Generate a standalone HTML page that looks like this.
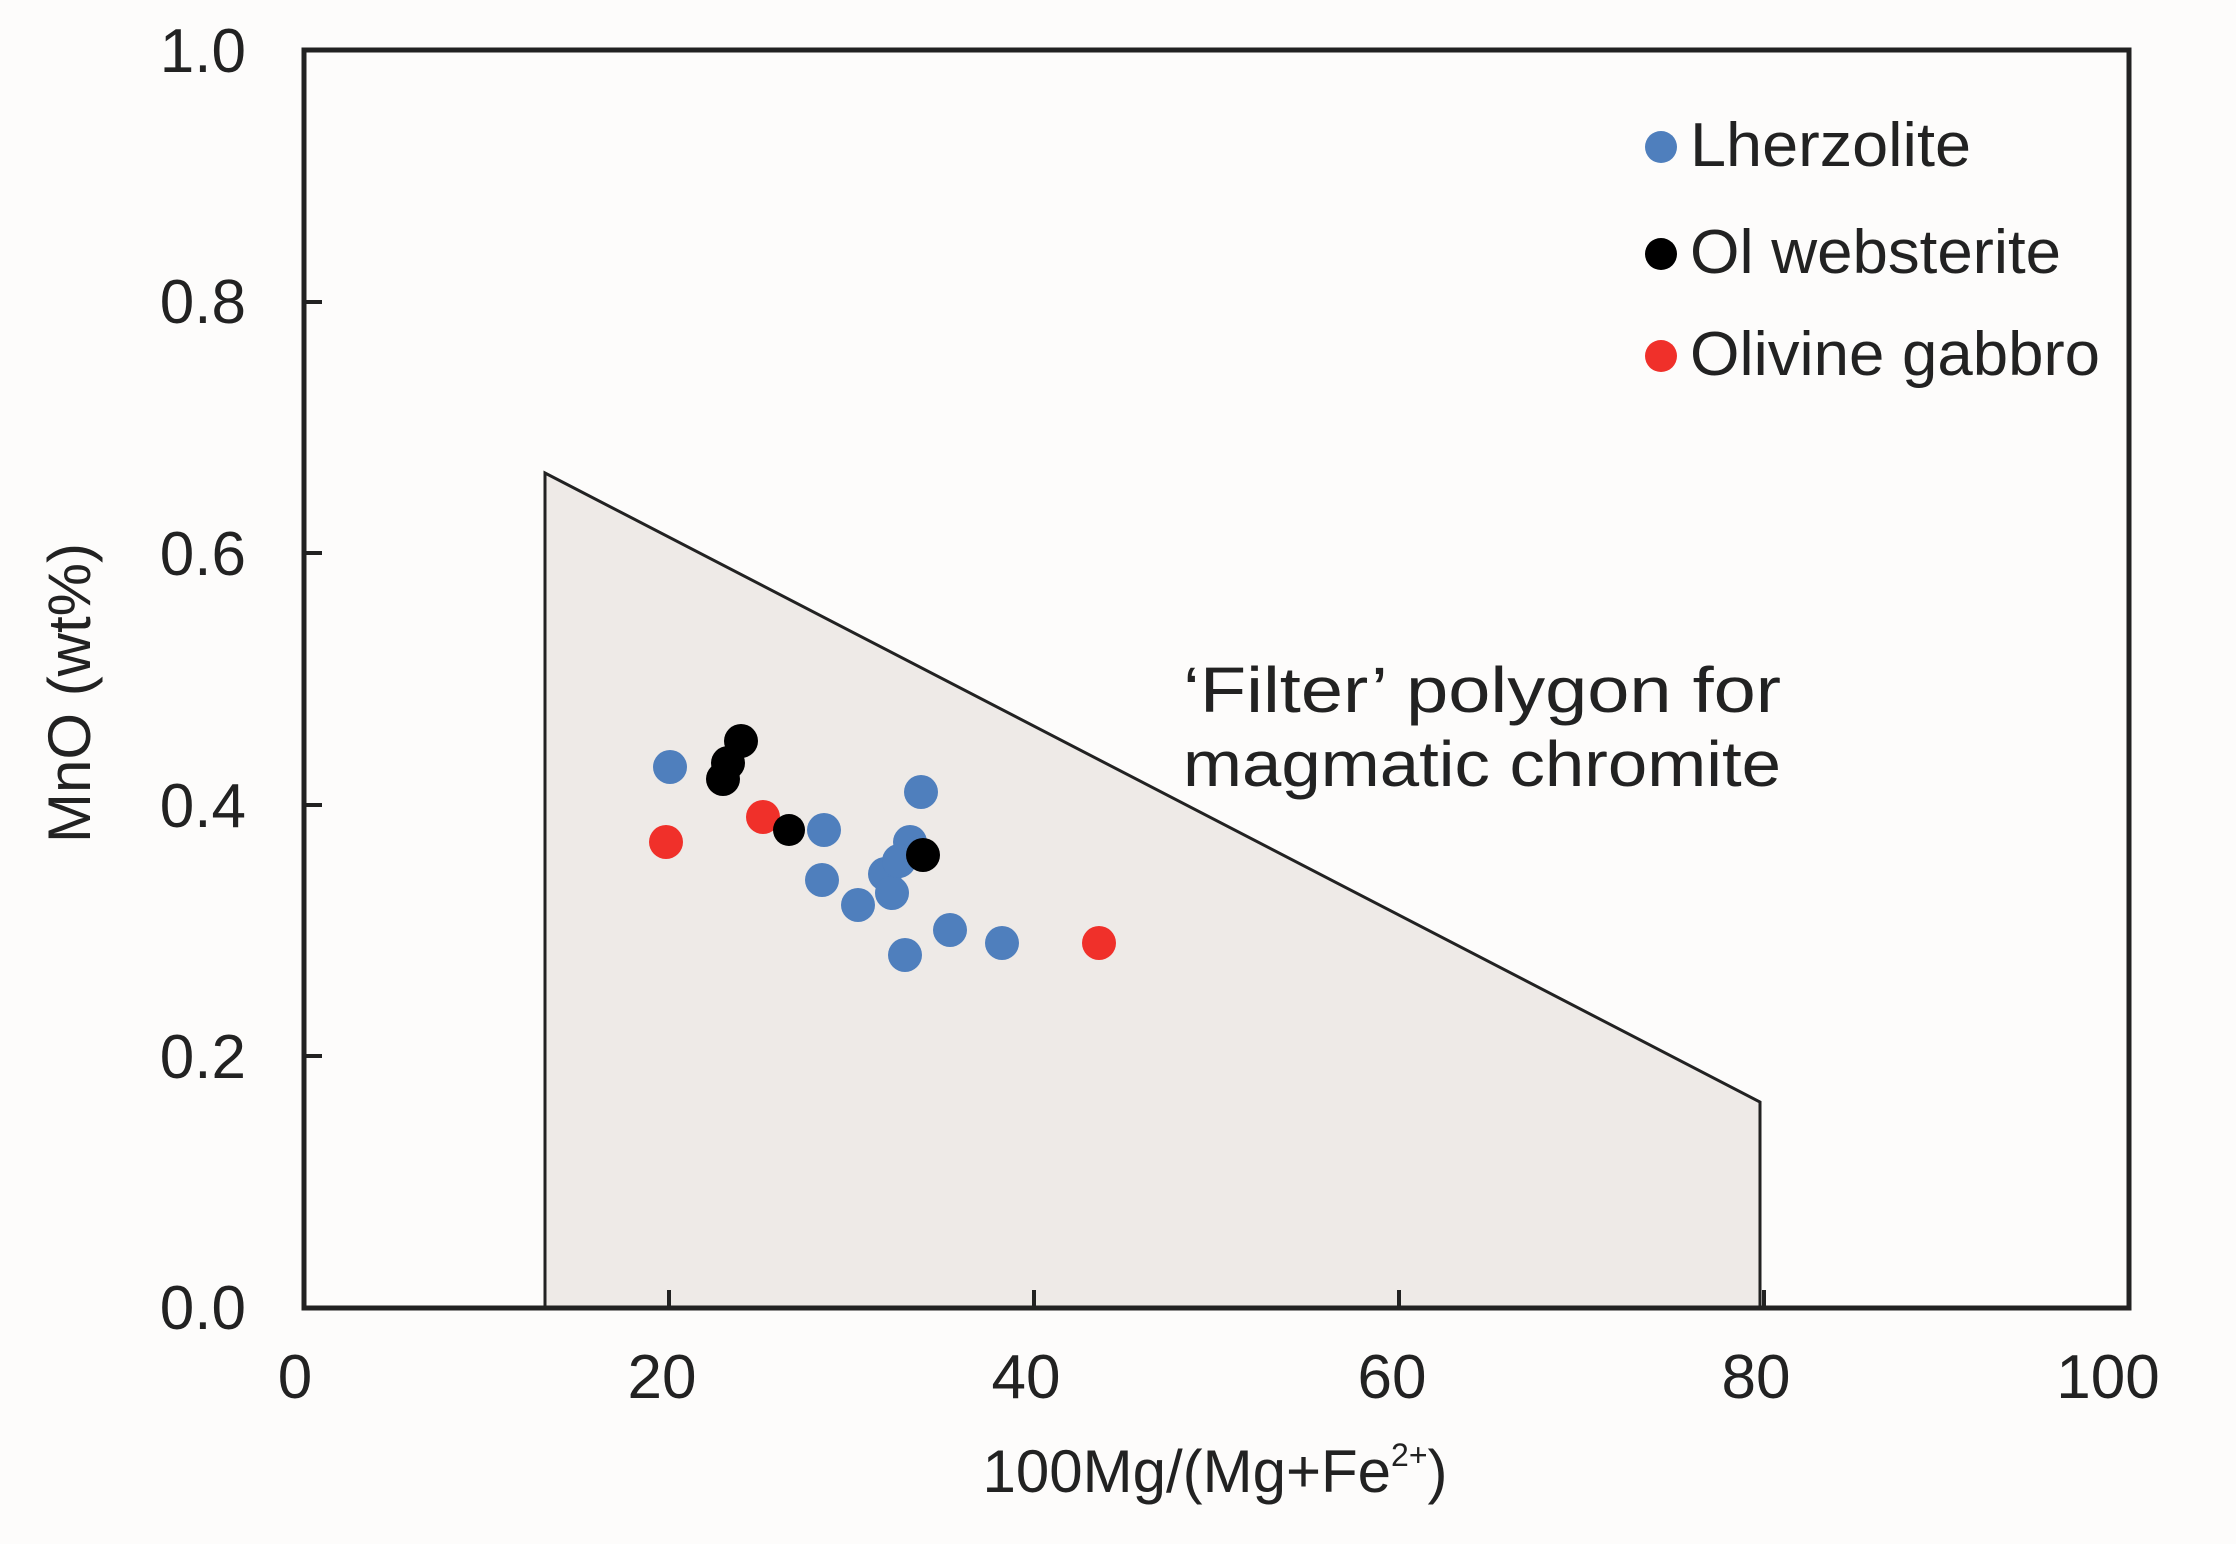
<!DOCTYPE html>
<html><head><meta charset="utf-8"><style>html,body{margin:0;padding:0;background:#fdfcfb}svg{display:block}</style></head><body>
<svg width="2236" height="1544" viewBox="0 0 2236 1544" xmlns="http://www.w3.org/2000/svg" font-family="Liberation Sans, Arial, sans-serif" fill="#222">
<rect width="2236" height="1544" fill="#fdfcfb"/>
<polygon points="545,473 545,1308 1760,1308 1760,1102" fill="#eeeae7" stroke="#222" stroke-width="3"/>
<rect x="304" y="50" width="1825" height="1258" fill="none" stroke="#222" stroke-width="5"/>
<g stroke="#222" stroke-width="4">
<line x1="304" y1="1056" x2="322" y2="1056"/><line x1="304" y1="805" x2="322" y2="805"/><line x1="304" y1="553" x2="322" y2="553"/><line x1="304" y1="302" x2="322" y2="302"/>
<line x1="669" y1="1308" x2="669" y2="1290"/><line x1="1034" y1="1308" x2="1034" y2="1290"/><line x1="1399" y1="1308" x2="1399" y2="1290"/><line x1="1764" y1="1308" x2="1764" y2="1290"/>
</g>
<g font-size="62" text-anchor="end">
<text x="246" y="72">1.0</text><text x="246" y="323">0.8</text><text x="246" y="575">0.6</text><text x="246" y="827">0.4</text><text x="246" y="1078">0.2</text><text x="246" y="1329">0.0</text>
</g>
<g font-size="62" text-anchor="middle">
<text x="295" y="1398">0</text><text x="662" y="1398">20</text><text x="1026" y="1398">40</text><text x="1392" y="1398">60</text><text x="1756" y="1398">80</text><text x="2108" y="1398">100</text>
</g>
<text x="1215" y="1492" font-size="60" text-anchor="middle">100Mg/(Mg+Fe<tspan font-size="32" dy="-26">2+</tspan><tspan dy="26">)</tspan></text>
<text transform="translate(90,693) rotate(-90)" font-size="60" text-anchor="middle">MnO (wt%)</text>
<text x="1183" y="712" font-size="64" textLength="598" lengthAdjust="spacingAndGlyphs">‘Filter’ polygon for</text>
<text x="1183" y="786" font-size="64" textLength="598" lengthAdjust="spacingAndGlyphs">magmatic chromite</text>
<g font-size="62">
<circle cx="1661" cy="147" r="16" fill="#4f7fbd"/><text x="1690" y="166" textLength="281" lengthAdjust="spacingAndGlyphs">Lherzolite</text>
<circle cx="1661" cy="254" r="16" fill="#000"/><text x="1690" y="273" textLength="371" lengthAdjust="spacingAndGlyphs">Ol websterite</text>
<circle cx="1661" cy="356" r="16" fill="#f0302a"/><text x="1690" y="375" textLength="410" lengthAdjust="spacingAndGlyphs">Olivine gabbro</text>
</g>
<g fill="#4f7fbd">
<circle cx="670" cy="767" r="17"/><circle cx="824" cy="830" r="17"/><circle cx="822" cy="880" r="17"/><circle cx="858" cy="905" r="17"/><circle cx="921" cy="792" r="17"/><circle cx="910" cy="842" r="17"/><circle cx="885" cy="874" r="17"/><circle cx="892" cy="893" r="17"/><circle cx="899" cy="861" r="17"/><circle cx="950" cy="930" r="17"/><circle cx="1002" cy="943" r="17"/><circle cx="905" cy="955" r="17"/>
</g>
<g fill="#f0302a">
<circle cx="666" cy="842" r="17"/><circle cx="763" cy="817" r="17"/><circle cx="1099" cy="943" r="17"/>
</g>
<g fill="#000">
<circle cx="741" cy="741" r="17"/><circle cx="728" cy="763" r="17"/><circle cx="723" cy="779" r="17"/><circle cx="789" cy="830" r="16"/><circle cx="923" cy="855" r="17"/>
</g>
</svg>
</body></html>
